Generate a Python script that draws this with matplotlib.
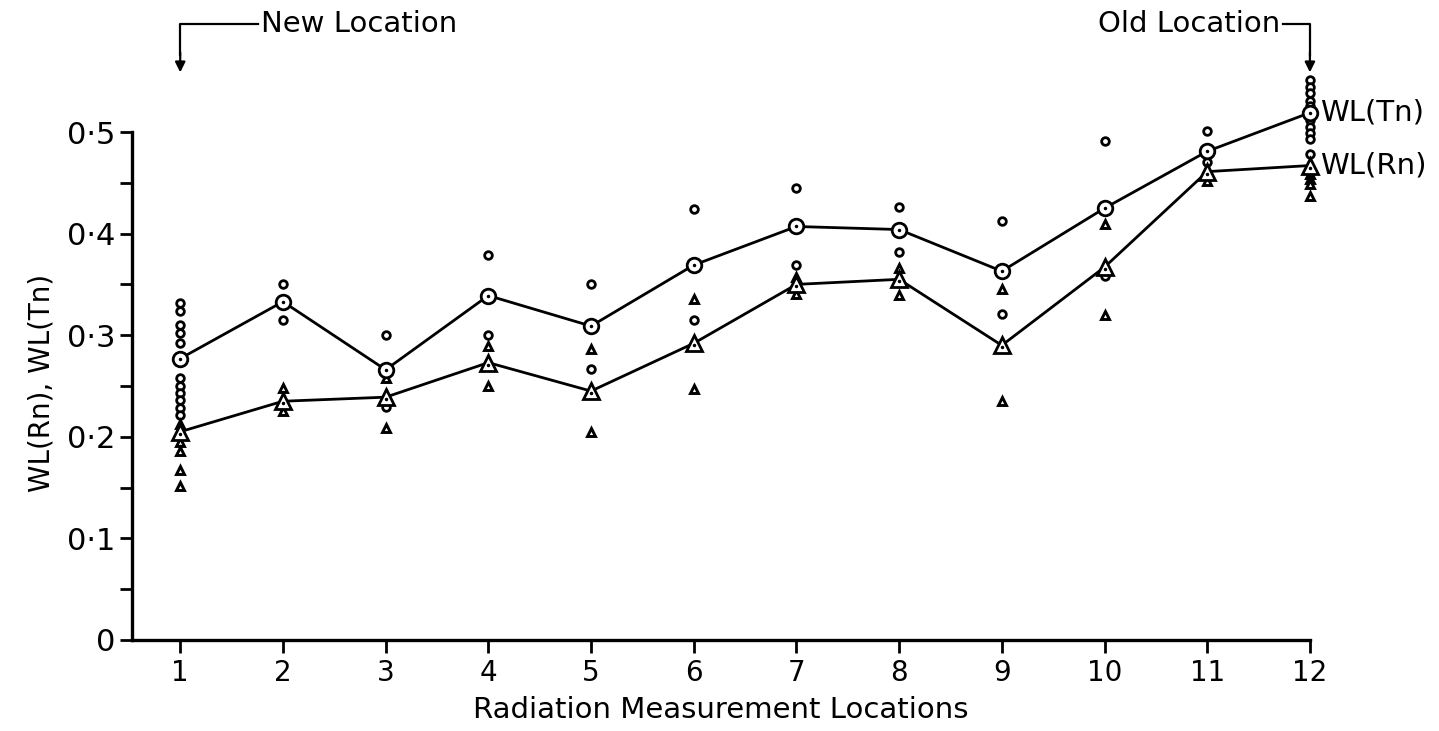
import numpy as np
import matplotlib.pyplot as plt

plt.rcParams['font.family'] = ['DejaVu Sans']

# measurement locations
locations = np.arange(1, 13)

# mean working level per location
wl_tn_mean = [0.277, 0.333, 0.266, 0.339, 0.309, 0.369, 0.407, 0.404, 0.363, 0.425, 0.481, 0.519]
wl_rn_mean = [0.205, 0.235, 0.239, 0.273, 0.245, 0.292, 0.350, 0.355, 0.290, 0.367, 0.461, 0.467]

# individual readings per location
wl_tn_points = [
    [0.332, 0.324, 0.310, 0.302, 0.292, 0.258, 0.250, 0.243, 0.236, 0.228, 0.221],
    [0.350, 0.315],
    [0.300, 0.229],
    [0.379, 0.300],
    [0.350, 0.267],
    [0.424, 0.315],
    [0.445, 0.369],
    [0.426, 0.382],
    [0.412, 0.321],
    [0.491, 0.358],
    [0.501, 0.470],
    [0.551, 0.544, 0.538, 0.531, 0.526, 0.512, 0.505, 0.499, 0.493, 0.478],
]
wl_rn_points = [
    [0.213, 0.195, 0.186, 0.167, 0.152],
    [0.248, 0.225],
    [0.258, 0.209],
    [0.289, 0.250],
    [0.286, 0.205],
    [0.336, 0.247],
    [0.357, 0.341],
    [0.366, 0.340],
    [0.345, 0.235],
    [0.409, 0.320],
    [0.452],
    [0.459, 0.454, 0.449, 0.437],
]

y_ticks = [0, 0.1, 0.2, 0.3, 0.4, 0.5]
y_tick_labels = ['0', '0·1', '0·2', '0·3', '0·4', '0·5']
x_tick_labels = [str(i) for i in locations]

fig = plt.figure(figsize=(14.39, 7.31), dpi=100)
ax = fig.add_axes([0.0917, 0.1245, 0.8186, 0.8617])

# scattered individual readings
for loc, pts in zip(locations, wl_tn_points):
    ax.plot([loc] * len(pts), pts, 'o', ms=5.5, mfc='white', mec='black', mew=2.0,
            ls='none', clip_on=False, zorder=3)
for loc, pts in zip(locations, wl_rn_points):
    ax.plot([loc] * len(pts), pts, '^', ms=6, mfc='white', mec='black', mew=2.1,
            ls='none', clip_on=False, zorder=3)

# mean lines
ax.plot(locations, wl_tn_mean, '-', color='black', lw=2.0, zorder=2, clip_on=False)
ax.plot(locations, wl_rn_mean, '-', color='black', lw=2.0, zorder=2, clip_on=False)
ax.plot(locations, wl_tn_mean, 'o', ms=10.5, mfc='white', mec='black', mew=2.0,
        ls='none', zorder=4, clip_on=False)
ax.plot(locations, wl_rn_mean, '^', ms=11.5, mfc='white', mec='black', mew=2.0,
        ls='none', zorder=4, clip_on=False)
# centre dots
ax.plot(locations, wl_tn_mean, '.', ms=3, color='black', ls='none', zorder=5, clip_on=False)
ax.plot(locations, np.array(wl_rn_mean) - 0.002, '.', ms=3, color='black', ls='none',
        zorder=5, clip_on=False)

# series labels at the right end
ax.text(12.1, wl_tn_mean[-1], 'WL(Tn)', fontsize=21, va='center', ha='left')
ax.text(12.1, wl_rn_mean[-1], 'WL(Rn)', fontsize=21, va='center', ha='left')

# location call-outs
y_bar, y_tip = 0.606, 0.556
ax.plot([1, 1, 1.76], [y_tip + 0.02, y_bar, y_bar], color='black', lw=1.6, clip_on=False)
ax.annotate('', xy=(1, y_tip), xytext=(1, y_tip + 0.025),
            arrowprops=dict(arrowstyle='-|>', color='black', lw=1.6, mutation_scale=15),
            annotation_clip=False)
ax.text(1.79, y_bar, 'New Location', fontsize=21, va='center', ha='left')

ax.plot([11.74, 12, 12], [y_bar, y_bar, y_tip + 0.02], color='black', lw=1.6, clip_on=False)
ax.annotate('', xy=(12, y_tip), xytext=(12, y_tip + 0.025),
            arrowprops=dict(arrowstyle='-|>', color='black', lw=1.6, mutation_scale=15),
            annotation_clip=False)
ax.text(11.71, y_bar, 'Old Location', fontsize=21, va='center', ha='right')

# axes styling
ax.set_xlim(0.53, 12.0)
ax.set_ylim(0, 0.62)
for side in ['top', 'right']:
    ax.spines[side].set_visible(False)
ax.spines['left'].set_bounds(0, 0.5)
ax.spines['left'].set_linewidth(2.4)
ax.spines['bottom'].set_linewidth(2.4)

ax.set_yticks(y_ticks)
ax.set_yticklabels(y_tick_labels, fontsize=22)
ax.set_yticks(np.arange(0.05, 0.5, 0.1), minor=True)
ax.set_xticks(locations)
ax.set_xticklabels(x_tick_labels, fontsize=20)
ax.tick_params(axis='both', which='both', direction='out', length=9, width=2.0, color='black')
ax.tick_params(axis='y', pad=3)
ax.tick_params(axis='x', pad=5)

ax.set_xlabel('Radiation Measurement Locations', fontsize=21, labelpad=6)
ax.set_ylabel('WL(Rn), WL(Tn)', fontsize=20)
ax.yaxis.set_label_coords(-0.065, 0.253 / 0.62)

fig.savefig('out.png', dpi=100)
